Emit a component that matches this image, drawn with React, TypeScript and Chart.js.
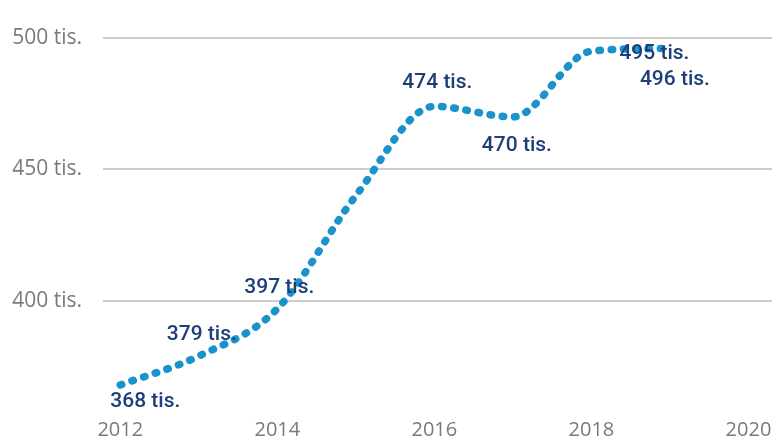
import React, { useEffect, useRef } from "react";
import { Chart, registerables } from "chart.js";

Chart.register(...registerables);

const years = [2012, 2013, 2014, 2015, 2016, 2017, 2018, 2019];
const values = [368, 379, 397, 440, 474, 470, 495, 496];
const pointLabels = ["368 tis.", "379 tis.", "397 tis.", "", "474 tis.", "470 tis.", "495 tis.", "496 tis."];
const xTicks = [2012, 2014, 2016, 2018, 2020];
const yTicks = [400, 450, 500];
const yTickSuffix = " tis.";

// label offsets from their point, in px (styling only)
const labelDx = [25, 3, 2, 0, 3, 4, 63, 5];
const labelDy = [17, -21, -21, 0, -24, 29, 3, 31];

const labelPlugin = {
  id: "pointLabels",
  afterDatasetsDraw(chart: any) {
    const meta = chart.getDatasetMeta(0);
    const ctx = chart.ctx;
    ctx.save();
    ctx.font = "500 21px Roboto";
    ctx.fillStyle = "#1c3f78";
    ctx.textAlign = "center";
    ctx.textBaseline = "middle";
    meta.data.forEach((pt: any, i: number) => {
      const t = pointLabels[i];
      if (!t) return;
      ctx.fillText(t, pt.x + labelDx[i], pt.y + labelDy[i]);
    });
    ctx.restore();
  },
};

export default function App() {
  const ref = useRef<HTMLCanvasElement>(null);
  useEffect(() => {
    document.body.style.margin = "0";
    const chart = new Chart(ref.current!, {
      type: "line",
      data: {
        datasets: [
          {
            data: years.map((y, i) => ({ x: y, y: values[i] })),
            borderColor: "#1a92cc",
            borderWidth: 7.5,
            borderDash: [1.5, 10.8],
            borderCapStyle: "round",
            cubicInterpolationMode: "monotone",
            pointRadius: 0,
            fill: false,
          },
        ],
      },
      options: {
        animation: false,
        responsive: false,
        maintainAspectRatio: false,
        layout: { padding: { top: 38, right: 3, left: 0, bottom: 0 } },
        plugins: { legend: { display: false }, tooltip: { enabled: false } },
        scales: {
          x: {
            type: "linear",
            min: 2011.78,
            max: 2020.3,
            grid: { display: false, drawTicks: false },
            border: { display: false },
            afterBuildTicks: (s: any) => {
              s.ticks = xTicks.map((v) => ({ value: v }));
            },
            afterFit: (s: any) => {
              s.height = 31;
              s.paddingLeft = 0;
              s.paddingRight = 0;
            },
            ticks: {
              color: "#7a7a7a",
              font: { family: "Open Sans", size: 20 },
              padding: 12,
              maxRotation: 0,
              autoSkip: false,
              callback: (v: any) => String(v),
            },
          },
          y: {
            min: 360,
            max: 500,
            border: { display: false },
            grid: { color: "#cccccc", lineWidth: 2, drawTicks: false },
            afterBuildTicks: (s: any) => {
              s.ticks = yTicks.map((v) => ({ value: v }));
            },
            afterFit: (s: any) => {
              s.width = 103;
              s.paddingTop = 0;
              s.paddingBottom = 0;
            },
            ticks: {
              color: "#7a7a7a",
              font: { family: "Open Sans", size: 21 },
              padding: 21,
              callback: (v: any) => v + yTickSuffix,
            },
          },
        },
      },
      plugins: [labelPlugin],
    } as any);
    return () => chart.destroy();
  }, []);
  return (
    <div style={{ width: 775, height: 437 }}>
      <canvas ref={ref} width={775} height={437} />
    </div>
  );
}
